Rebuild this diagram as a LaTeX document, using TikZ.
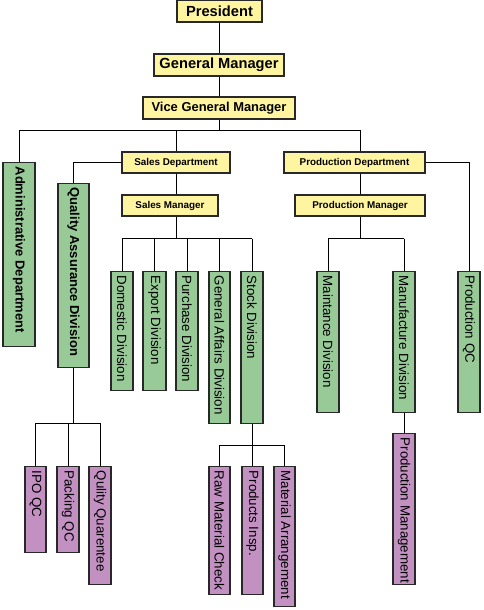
\documentclass[tikz,border=0pt]{standalone}
\usepackage{fontspec}
\setmainfont{Liberation Sans}
\definecolor{boxyellow}{RGB}{255,245,160}
\definecolor{boxgreen}{RGB}{152,202,152}
\definecolor{boxpurple}{RGB}{194,145,194}
\definecolor{boxline}{RGB}{40,40,40}
\tikzset{every picture/.style={line width=0.75pt}}
\tikzset{
        hbox/.style={draw=boxline, fill=boxyellow, inner sep=0pt, line width=1pt},
        vbox/.style 2 args={draw=boxline, line width=1pt, rotate=-90, anchor=west, inner sep=0pt,
                minimum width=#1*0.75pt, minimum height=#2*0.75pt, text width=#1*0.75pt-6pt,
                align=flush left, font=\fontsize{10}{12}\selectfont,
                execute at begin node=\hbox\bgroup, execute at end node=\egroup},
        gbox/.style={fill=boxgreen},
        pbox/.style={fill=boxpurple},
        heavy/.style={font=\fontsize{9.75}{12}\selectfont\bfseries}
}

\begin{document}
\begin{tikzpicture}[x=0.75pt,y=0.75pt,yscale=-1,xscale=1]
        \useasboundingbox (0,0) rectangle (483,610);

        %Shape: top of the chart
        \node (pres) at (219.5,11) [hbox, minimum width=85*0.75pt, minimum height=22*0.75pt, font=\fontsize{11}{13}\selectfont\bfseries] {President};
        \node (gm) at (219,65) [hbox, minimum width=130*0.75pt, minimum height=22*0.75pt, font=\fontsize{11}{13}\selectfont\bfseries] {General Manager};
        \node (vgm) at (219,108) [hbox, minimum width=152*0.75pt, minimum height=22*0.75pt, font=\fontsize{9.7}{12}\selectfont\bfseries] {Vice General Manager};
        \node (sd) at (176,162.5) [hbox, minimum width=108*0.75pt, minimum height=21*0.75pt, font=\fontsize{7.4}{9}\selectfont\bfseries] {Sales Department};
        \node (sm) at (170,205.5) [hbox, minimum width=96*0.75pt, minimum height=21*0.75pt, font=\fontsize{7.4}{9}\selectfont\bfseries] {Sales Manager};
        \node (pd) at (354.5,162.5) [hbox, minimum width=141*0.75pt, minimum height=21*0.75pt, font=\fontsize{7.4}{9}\selectfont\bfseries] {Production Department};
        \node (pm) at (360,205.5) [hbox, minimum width=130*0.75pt, minimum height=21*0.75pt, font=\fontsize{7.4}{9}\selectfont\bfseries] {Production Manager};

        %Shape: divisions
        \node (admin) at (19,162) [vbox={184}{32}, gbox, heavy] {Administrative Department};
        \node (qa) at (73.5,183) [vbox={184}{31}, gbox, heavy] {Quality Assurance Division};
        \node (dom) at (122,271) [vbox={119}{22}, gbox] {Domestic Division};
        \node (exp) at (154.5,271) [vbox={119}{23}, gbox] {Export Division};
        \node (pur) at (187,271) [vbox={119}{22}, gbox] {Purchase Division};
        \node (gad) at (219.5,271) [vbox={152}{21}, gbox] {General Affairs Division};
        \node (stock) at (252,271) [vbox={152}{22}, gbox] {Stock Division};
        \node (maint) at (328,271) [vbox={141}{22}, gbox] {Maintance Division};
        \node (manuf) at (404,271) [vbox={141}{22}, gbox] {Manufacture Division};
        \node (pqc) at (469,271) [vbox={141}{22}, gbox] {Production QC};

        %Shape: sections
        \node (ipo) at (35.5,466) [vbox={86}{21}, pbox] {IPO QC};
        \node (pack) at (68,466) [vbox={86}{22}, pbox] {Packing QC};
        \node (qq) at (100,466) [vbox={118}{22}, pbox] {Qulity Quarentee};
        \node (raw) at (219.5,466) [vbox={128}{21}, pbox] {Raw Material Check};
        \node (insp) at (252.5,466) [vbox={128}{21}, pbox] {Products Insp.};
        \node (arr) at (284.5,466) [vbox={140}{21}, pbox] {Material Arrangement};
        \node (pmg) at (404,433) [vbox={151}{22}, pbox] {Production Management};

        %Straight Lines
        \draw (pres.south) -- (pres.south |- gm.north);
        \draw (gm.south) -- (gm.south |- vgm.north);
        \draw (vgm.south) -- ++(0,11) coordinate (b1);
        \draw (admin.west) -- (admin.west |- b1) -- (pm.north |- b1) -- (pm.north |- pd.north);
        \draw (sd.north |- b1) -- (sd.north);
        \draw (sd.west) -| (qa.west);
        \draw (pd.east) -| (pqc.west);
        \draw (sd.south) -- (sd.south |- sm.north);
        \draw (pm.north |- pd.south) -- (pm.north);

        \draw (sd.south |- sm.south) -- ++(0,22) coordinate (b2);
        \draw (dom.west |- b2) -- (stock.west |- b2);
        \foreach \n in {dom,exp,pur,gad,stock}
                \draw (\n.west |- b2) -- (\n.west);

        \draw (pm.south) -- ++(0,22) coordinate (b3);
        \draw (maint.west |- b3) -- (manuf.west |- b3);
        \foreach \n in {maint,manuf}
                \draw (\n.west |- b3) -- (\n.west);

        \draw (qa.east) -- ++(0,55) coordinate (b4);
        \draw (ipo.west |- b4) -- (qq.west |- b4);
        \foreach \n in {ipo,pack,qq}
                \draw (\n.west |- b4) -- (\n.west);

        \draw (stock.east) -- ++(0,21) coordinate (b5);
        \draw (raw.west |- b5) -- (arr.west |- b5);
        \foreach \n in {raw,insp,arr}
                \draw (\n.west |- b5) -- (\n.west);

        \draw (manuf.east) -- (pmg.west);

\end{tikzpicture}
\end{document}
